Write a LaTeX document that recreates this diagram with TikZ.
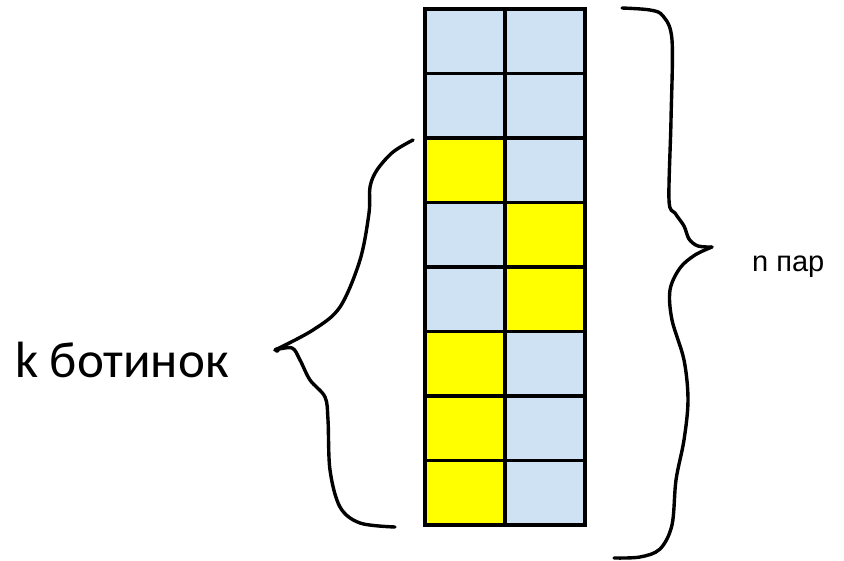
\documentclass[tikz,border=0pt]{standalone}
\usepackage{fontspec}
\setmainfont{Liberation Sans}
\newfontfamily\labelfont{Carlito}
\definecolor{cellblue}{HTML}{CFE2F3}
\definecolor{cellyellow}{HTML}{FFFF00}
\begin{document}
\begin{tikzpicture}[x=1pt,y=-1pt,
  cell/.style={draw=black, line width=3.6pt, minimum width=80pt, minimum height=64.5pt,
    inner sep=0pt, outer sep=0pt, anchor=north west},
  bl/.style={cell, fill=cellblue},
  ye/.style={cell, fill=cellyellow},
  brace/.style={draw=black, line width=3.4pt, line cap=round, line join=round}]
\useasboundingbox (0,0) rectangle (844,560);

% two columns of eight cells
\foreach \r/\a/\b in {0/bl/bl,1/bl/bl,2/ye/bl,3/bl/ye,4/bl/ye,5/ye/bl,6/ye/bl,7/ye/bl}{
  \node[\a] (L\r) at (425,9+64.5*\r) {};
  \node[\b] (R\r) at (505,9+64.5*\r) {};
}

% right brace over all rows
\draw[brace] plot[smooth, tension=0.55] coordinates {
  (622,8) (650,10) (663,16) (672,40) (671,120) (669,200) (675,213)
  (684,226) (689,239) (698,246) (712,247)};
\draw[brace] plot[smooth, tension=0.55] coordinates {
  (712,247) (695,255) (680,268) (670,290) (672,320) (684,360) (688,400)
  (684,440) (676,480) (672,525) (660,549) (640,557) (614,558)};

% left brace over the lower six rows
\draw[brace] plot[smooth, tension=0.55] coordinates {
  (413,140) (393,152) (377,170) (370,187) (369,213) (360,260) (340,307)
  (313,330) (275,350)};
\draw[brace] plot[smooth, tension=0.55] coordinates {
  (275,350) (292,348) (300,360) (310,380) (325,397) (328,420) (330,470)
  (340,507) (360,523) (395,527)};
\fill (277,350) circle (2.8pt);

\node[anchor=base west, inner sep=0pt] (k) at (15,377) {\labelfont\fontsize{51}{60}\selectfont k ботинок};
\node[anchor=base west, inner sep=0pt] (n) at (752,271) {\fontsize{29}{34}\selectfont n пар};
\end{tikzpicture}
\end{document}
